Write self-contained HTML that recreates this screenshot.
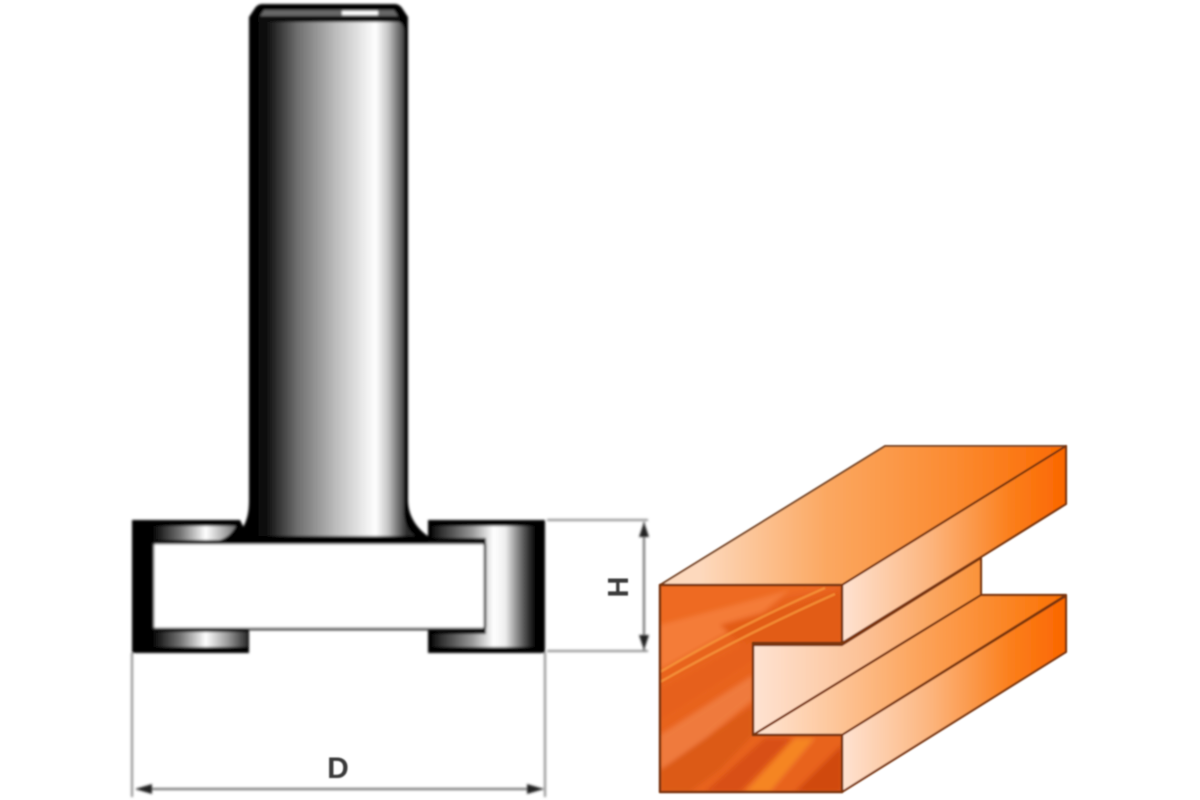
<!DOCTYPE html>
<html><head><meta charset="utf-8"><style>
html,body{margin:0;padding:0;background:#fff}
svg{display:block}
text{font-family:"Liberation Sans",sans-serif;font-weight:700;fill:#3a3a3a}
</style></head><body>
<svg width="1200" height="800" viewBox="0 0 1200 800" xmlns="http://www.w3.org/2000/svg">
<defs>
<filter id="b" x="-5%" y="-5%" width="110%" height="110%"><feGaussianBlur stdDeviation="1.2"/></filter>
<filter id="bt" x="-30%" y="-30%" width="160%" height="160%"><feGaussianBlur stdDeviation="0.9"/></filter>
<filter id="b2" x="-20%" y="-20%" width="140%" height="140%"><feGaussianBlur stdDeviation="2.5"/></filter>
<linearGradient id="shank" gradientUnits="userSpaceOnUse" x1="250" y1="0" x2="407" y2="0">
<stop offset="0" stop-color="#000"/><stop offset=".1" stop-color="#0c0c0c"/><stop offset=".3" stop-color="#6e6e6e"/><stop offset=".55" stop-color="#bdbdbd"/><stop offset=".8" stop-color="#fff"/><stop offset=".88" stop-color="#c4c4c4"/><stop offset="1" stop-color="#2a2a2a"/>
</linearGradient>
<linearGradient id="rt" gradientUnits="userSpaceOnUse" x1="428" y1="0" x2="545" y2="0">
<stop offset="0" stop-color="#000"/><stop offset=".12" stop-color="#333"/><stop offset=".38" stop-color="#999"/><stop offset=".56" stop-color="#fff"/><stop offset=".66" stop-color="#eee"/><stop offset=".82" stop-color="#555"/><stop offset=".92" stop-color="#000"/><stop offset="1" stop-color="#000"/>
</linearGradient>
<linearGradient id="lt" gradientUnits="userSpaceOnUse" x1="132" y1="0" x2="249" y2="0">
<stop offset="0" stop-color="#000"/><stop offset=".17" stop-color="#000"/><stop offset=".42" stop-color="#777"/><stop offset=".63" stop-color="#fff"/><stop offset=".82" stop-color="#999"/><stop offset="1" stop-color="#222"/>
</linearGradient>
<linearGradient id="top" gradientUnits="userSpaceOnUse" x1="700" y1="0" x2="1066" y2="0">
<stop offset="0" stop-color="#fdd9bd"/><stop offset=".35" stop-color="#fba760"/><stop offset=".7" stop-color="#fb8a30"/><stop offset="1" stop-color="#fb6a00"/>
</linearGradient>
<linearGradient id="face" gradientUnits="userSpaceOnUse" x1="842" y1="0" x2="1066" y2="0">
<stop offset="0" stop-color="#fee3d2"/><stop offset=".4" stop-color="#fcb47c"/><stop offset=".75" stop-color="#fb7f1c"/><stop offset="1" stop-color="#fa6600"/>
</linearGradient>
<linearGradient id="slot" gradientUnits="userSpaceOnUse" x1="753" y1="0" x2="981" y2="0">
<stop offset="0" stop-color="#fee3d2"/><stop offset=".5" stop-color="#fcc094"/><stop offset="1" stop-color="#fb9238"/>
</linearGradient>
<linearGradient id="ltop" gradientUnits="userSpaceOnUse" x1="770" y1="0" x2="1066" y2="0">
<stop offset="0" stop-color="#fee0ca"/><stop offset=".5" stop-color="#fca45c"/><stop offset="1" stop-color="#fb7000"/>
</linearGradient>
<clipPath id="fc"><polygon points="660,585 842,585 842,643 753,643 753,735 842,735 842,792 660,792"/></clipPath>
</defs>

<g filter="url(#b)">
<!-- cutter -->
<path d="M132,520 H240 L250,540 H428 V520 H545 V653 H428 V630 H249 V653 H132 Z" fill="#000"/>
<path d="M152,526 H236 C232,534 226,538 220,540 H152 Z" fill="url(#lt)"/>
<path d="M153,632 H247 V647 H153 Z" fill="url(#lt)"/>
<path d="M432,526 H540 V647 H432 V634 H486 V538 H432 Z" fill="url(#rt)"/>
<rect x="153" y="543" width="332" height="86" rx="2" fill="#fff" stroke="#222" stroke-width="2.5"/>
<!-- shank -->
<path d="M262,4 Q258,4 255,8 L249,17 V500 C249,520 244,532 226,543 H428 V536 C416,528 408,515 408,500 V17 L402,8 Q399,4 395,4 Z" fill="#000"/>
<path d="M262,22 H398 Q403,22 404,30 V510 C404,522 408,530 415,536 H248 C255,528 257,520 257,505 V30 Q257,22 262,22 Z" fill="url(#shank)"/>
<path d="M264,10 H394 L398,16 H260 Z" fill="#666"/>
<rect x="342" y="11" width="36" height="4" fill="#fff"/>
<rect x="258" y="17" width="142" height="5" fill="#0a0a0a"/>
<!-- dimension lines -->
<g stroke="#8a8a8a" stroke-width="2" fill="none">
<path d="M132,653 V797 M545,653 V797 M547,520 H648 M547,651 H648"/>
<path d="M644,522 V650 M137,789 H543" stroke="#666"/>
</g>
<g fill="#222">
<polygon points="644,522 639,537 649,537"/><polygon points="644,650 639,635 649,635"/>
<polygon points="135,789 152,784 152,794"/><polygon points="544,789 527,784 527,794"/>
</g>
</g>
<g filter="url(#bt)">
<text x="338" y="778" font-size="30" text-anchor="middle">D</text>
<text transform="translate(628,587) rotate(-90)" font-size="29" text-anchor="middle">H</text>
</g>

<!-- wood -->
<g filter="url(#bt)" stroke-linejoin="round">
<polygon points="660,585 885,446 1066,446 842,585" fill="url(#top)" stroke="#7a4a2a" stroke-width="2"/>
<polygon points="842,585 1066,446 1066,504 981,557 842,643" fill="url(#face)" stroke="#7a3410" stroke-width="2.2"/>
<polygon points="753,645 842,645 981,558 981,595 753,735" fill="url(#slot)" stroke="#7a3410" stroke-width="2.2"/>
<polygon points="753,735 981,595 1066,595 842,735" fill="url(#ltop)" stroke="#7a3410" stroke-width="2.2"/>
<polygon points="842,735 1066,596 1066,652 842,792" fill="url(#face)" stroke="#7a3410" stroke-width="2.2"/>
<polygon points="660,585 842,585 842,643 753,643 753,735 842,735 842,792 660,792" fill="#e8631f"/>
<g clip-path="url(#fc)">
<g filter="url(#b2)">
<polygon points="660,585 842,585 760,600 660,640" fill="#ee6a24"/>
<polygon points="660,625 790,590 760,615 660,670" fill="#f47c38"/>
<polygon points="720,625 842,590 842,643 740,643" fill="#e25c14"/>
<polygon points="660,690 753,640 753,660 660,720" fill="#e6611c"/>
<polygon points="660,735 753,675 753,700 660,775" fill="#ef7a3c"/>
<polygon points="660,770 753,705 753,735 720,770 690,792 660,792" fill="#dc5a18"/>
<polygon points="745,792 795,738 815,738 770,792" fill="#f58524"/>
<polygon points="705,792 765,738 792,738 740,792" fill="#d85012"/>
<polygon points="795,792 842,745 842,792" fill="#d04a10"/>
</g>
<path d="M660,672 Q740,625 825,588 M660,682 Q745,634 835,594" stroke="#f79a3c" stroke-width="2.5" fill="none" opacity=".75"/>
</g>
<polygon points="660,585 842,585 842,643 753,643 753,735 842,735 842,792 660,792" fill="none" stroke="#7a3410" stroke-width="2.5"/>
</g>
</svg>
</body></html>
